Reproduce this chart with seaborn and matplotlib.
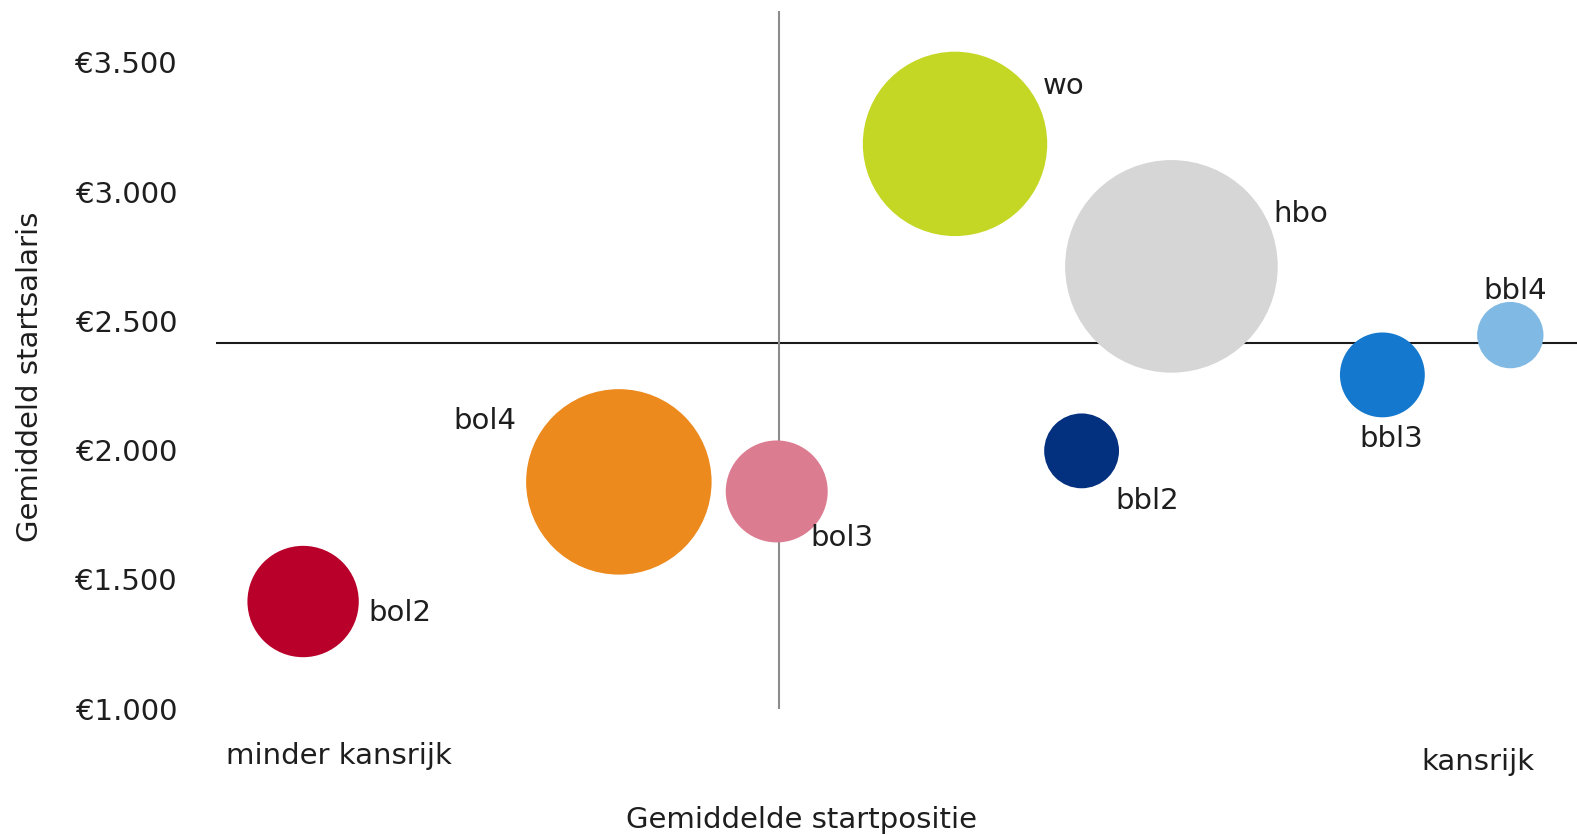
import pandas as pd
import matplotlib
matplotlib.use("Agg")
import matplotlib.pyplot as plt
from matplotlib.ticker import FuncFormatter
import seaborn as sns

# gegevens per opleiding
opleidingen = ["bol2", "bol4", "bol3", "wo", "hbo", "bbl2", "bbl3", "bbl4"]
startpositie = [6.4, 29.6, 41.2, 54.3, 70.2, 63.6, 85.7, 95.1]
startsalaris = [1414, 1877, 1840, 3185, 2711, 1997, 2291, 2445]
aantal = [31, 86, 26, 85, 113, 14, 18, 11]
kleuren = ["#b9002b", "#ec8a1e", "#dc7c90", "#c5d725",
           "#d6d6d6", "#03307f", "#1478ce", "#80bae4"]

gemiddeld_salaris = 2414
gemiddelde_positie = 41.4
y_ticks = [1000, 1500, 2000, 2500, 3000, 3500]

# label verschuiving t.o.v. middelpunt bel (punten)
label_offsets = {
    "bol2": (70, -13.8), "bol4": (-96.8, 37.9), "bol3": (47.2, -39.2),
    "wo": (78.5, 36), "hbo": (93.1, 32.3), "bbl2": (47.2, -42),
    "bbl3": (6.1, -51.6), "bbl4": (3.6, 26.3),
}

df = pd.DataFrame({
    "opleiding": opleidingen,
    "startpositie": startpositie,
    "startsalaris": startsalaris,
    "aantal": aantal,
})

sns.set_theme(style="white")
plt.rcParams["font.family"] = ["DejaVu Sans"]
tekst = "#1e1e1e"
fs = 21

W, H = 1577, 835
fig = plt.figure(figsize=(W / 100, H / 100), dpi=100)
ax = fig.add_axes([216 / W, 126.5 / H, 1361 / W, 697.7 / H])

ax.axhline(gemiddeld_salaris, color="#1a1a1a", lw=1.5, zorder=1)
ax.axvline(gemiddelde_positie, color="#8c8c8c", lw=1.5, zorder=1)

# bel-oppervlak evenredig met aantal
max_s = max(aantal) * 207.36
sns.scatterplot(data=df, x="startpositie", y="startsalaris",
                hue="opleiding", palette=dict(zip(opleidingen, kleuren)),
                size="aantal", sizes=(0, max_s), size_norm=(0, max(aantal)),
                linewidth=0, alpha=1, legend=False, ax=ax, zorder=3)

for naam, x, y in zip(opleidingen, startpositie, startsalaris):
    ax.annotate(naam, (x, y), xytext=label_offsets[naam],
                textcoords="offset points", ha="center", va="baseline",
                fontsize=fs, color=tekst)

ax.set_xlim(0, 100)
ax.set_ylim(1000, 3700)
ax.set_xticks([])
ax.set_yticks(y_ticks)
ax.yaxis.set_major_formatter(
    FuncFormatter(lambda v, p: "€" + f"{int(v):,}".replace(",", ".")))
ax.tick_params(axis="y", length=0, pad=28, labelsize=fs, labelcolor=tekst)
ax.set_xlabel("")
ax.set_ylabel("")
for sp in ax.spines.values():
    sp.set_visible(False)

fig.text(801.7 / W, 1 - 828 / H, "Gemiddelde startpositie",
         ha="center", va="baseline", fontsize=fs, color=tekst)
fig.text(38.3 / W, 1 - 376.5 / H, "Gemiddeld startsalaris", rotation=90,
         rotation_mode="anchor", ha="center", va="baseline",
         fontsize=fs, color=tekst)
fig.text(338.5 / W, 1 - 763.5 / H, "minder kansrijk",
         ha="center", va="baseline", fontsize=fs, color=tekst)
fig.text(1477.5 / W, 1 - 770 / H, "kansrijk",
         ha="center", va="baseline", fontsize=fs, color=tekst)

fig.savefig("out.png", dpi=100, facecolor="white")
